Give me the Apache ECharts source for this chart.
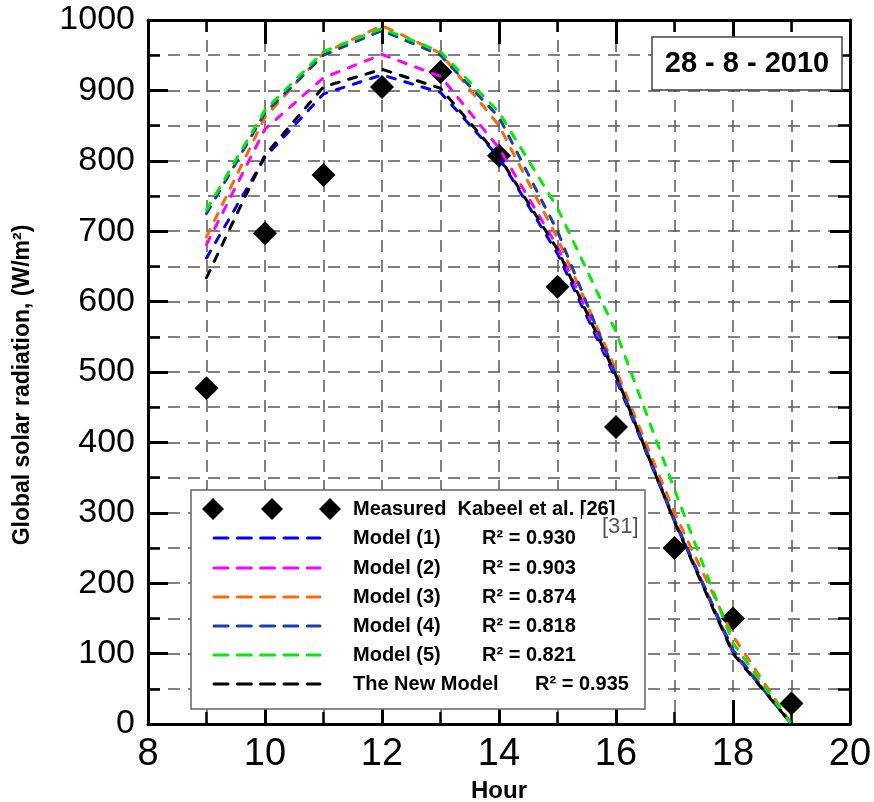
<!DOCTYPE html>
<html><head><meta charset="utf-8">
<script src="https://cdn.jsdelivr.net/npm/echarts@6/dist/echarts.min.js"></script>
<style>html,body{margin:0;padding:0;background:#fff}#c{width:874px;height:802px}</style>
</head><body><div id="c"></div>
<script>
// ---- data ----
const hours = [9, 10, 11, 12, 13, 14, 15, 16, 17, 18, 19];
const measured = [477, 697, 780, 905, 926, 807, 621, 422, 250, 150, 29];
const model1 = [662, 805, 895, 922, 897, 805, 668, 490, 288, 102, 0];
const model2 = [681, 845, 918, 951, 920, 818, 678, 495, 290, 103, 0];
const model3 = [692, 862, 953, 992, 953, 850, 690, 503, 300, 125, 0];
const model4 = [725, 868, 950, 985, 950, 862, 700, 495, 290, 105, 0];
const model5 = [730, 872, 955, 988, 955, 869, 733, 557, 333, 115, 0];
const newModel = [634, 808, 905, 930, 903, 806, 674, 495, 287, 100, 0];
const modelNames = ['Model (1)', 'Model (2)', 'Model (3)', 'Model (4)', 'Model (5)', 'The New Model'];
const modelR2 = ['R\u00b2 = 0.930', 'R\u00b2 = 0.903', 'R\u00b2 = 0.874', 'R\u00b2 = 0.818', 'R\u00b2 = 0.821', 'R\u00b2 = 0.935'];
const modelColors = ['#0000ff', '#ff00ff', '#ff6a00', '#1c3fae', '#00ee00', '#000000'];
const modelData = [model1, model2, model3, model4, model5, newModel];
const measuredName = 'Measured  Kabeel et al. [26]';
const citeText = '[31]';
const dateText = '28 - 8 - 2010';
const xTitle = 'Hour';
const yTitle = 'Global solar radiation, (W/m\u00b2)';

// ---- chart ----
const chart = echarts.init(document.getElementById('c'), null, {renderer: 'canvas'});
const F = '"Liberation Sans", Arial, sans-serif';
const gridDash = {type: [12, 8], color: '#555', width: 1.5};

function xy(arr) { return hours.map((h, i) => [h, arr[i]]); }

const drawOrder = [3, 4, 2, 1, 0, 5];
const lineSeries = drawOrder.map(i => ({
  name: modelNames[i], type: 'line', data: xy(modelData[i]),
  showSymbol: false, symbol: 'none', z: 3 + i * 0.01,
  lineStyle: {color: modelColors[i], width: 3, type: [8, 10], cap: 'round'},
  silent: true, animation: false
}));

// legend graphics
const g = [];
const LX = 191, LY = 490, LW = 454, LH = 219;
g.push({type: 'rect', shape: {x: LX, y: LY, width: LW, height: LH}, style: {fill: '#fff', stroke: '#666', lineWidth: 1.5}, z: 50});
const rowY = [509, 538, 568, 597, 626, 655, 684];
[213, 272, 330].forEach(cx => {
  g.push({type: 'polygon', shape: {points: [[cx, rowY[0] - 11], [cx + 11, rowY[0]], [cx, rowY[0] + 11], [cx - 11, rowY[0]]]}, style: {fill: '#000'}, z: 51});
});
g.push({type: 'text', x: 353, y: rowY[0], style: {text: measuredName, font: 'bold 20px ' + F, fill: '#000', verticalAlign: 'middle'}, z: 52});
g.push({type: 'rect', shape: {x: 582, y: 515, width: 60, height: 27}, style: {fill: '#fff'}, z: 53});
g.push({type: 'text', x: 602, y: 527, style: {text: citeText, font: '22px ' + F, fill: '#555', verticalAlign: 'middle'}, z: 54});
modelNames.forEach((n, i) => {
  const y = rowY[i + 1];
  g.push({type: 'line', shape: {x1: 214, y1: y, x2: 320, y2: y}, style: {stroke: modelColors[i], lineWidth: 3, lineDash: [14, 9.3], lineCap: 'round'}, z: 51});
  g.push({type: 'text', x: 353, y: y, style: {text: n, font: 'bold 20px ' + F, fill: '#000', verticalAlign: 'middle'}, z: 52});
  g.push({type: 'text', x: i === 5 ? 535 : 482, y: y, style: {text: modelR2[i], font: 'bold 20px ' + F, fill: '#000', verticalAlign: 'middle'}, z: 52});
});
// date box
g.push({type: 'rect', shape: {x: 652, y: 37, width: 190, height: 53}, style: {fill: '#fff', stroke: '#444', lineWidth: 1.5}, z: 50});
g.push({type: 'text', x: 747, y: 64, style: {text: dateText, font: 'bold 29px ' + F, fill: '#000', align: 'center', verticalAlign: 'middle'}, z: 52});

const axisCommon = {
  axisLine: {show: true, onZero: false, lineStyle: {color: '#000', width: 3}},
};
const plainNum = v => String(v);

const option = {
  animation: false,
  backgroundColor: '#fff',
  grid: {left: 148, right: 24, top: 20, bottom: 78, containLabel: false, outerBoundsMode: 'none'},
  xAxis: [
    {type: 'value', min: 8, max: 20, interval: 2, position: 'bottom',
     ...axisCommon,
     axisTick: {show: true, inside: true, length: 24, lineStyle: {color: '#000', width: 3}},
     minorTick: {show: true, splitNumber: 2, length: 12, lineStyle: {color: '#000', width: 2.5}},
     axisLabel: {fontSize: 38, color: '#000', margin: 12, fontFamily: F, formatter: plainNum},
     splitLine: {show: true, lineStyle: gridDash},
     minorSplitLine: {show: true, lineStyle: gridDash},
     name: xTitle, nameLocation: 'middle', nameGap: 54,
     nameTextStyle: {fontSize: 24, fontWeight: 'bold', color: '#000', fontFamily: F}},
    {type: 'value', min: 8, max: 20, interval: 2, position: 'top',
     ...axisCommon,
     axisTick: {show: true, inside: true, length: 24, lineStyle: {color: '#000', width: 3}},
     minorTick: {show: true, splitNumber: 2, length: 12, lineStyle: {color: '#000', width: 2.5}},
     axisLabel: {show: false}, splitLine: {show: false}}
  ],
  yAxis: [
    {type: 'value', min: 0, max: 1000, interval: 100, position: 'left',
     ...axisCommon,
     axisTick: {show: true, inside: true, length: 20, lineStyle: {color: '#000', width: 3}},
     minorTick: {show: true, splitNumber: 2, length: 12, lineStyle: {color: '#000', width: 2.5}},
     axisLabel: {fontSize: 34, color: '#000', margin: 13, fontFamily: F, formatter: plainNum},
     splitLine: {show: true, lineStyle: gridDash},
     minorSplitLine: {show: true, lineStyle: gridDash},
     name: yTitle, nameLocation: 'middle', nameGap: 114, nameRotate: 90,
     nameTextStyle: {fontSize: 23, fontWeight: 'bold', color: '#000', fontFamily: F, padding: [0, 26, 0, 0]}},
    {type: 'value', min: 0, max: 1000, interval: 100, position: 'right',
     ...axisCommon,
     axisTick: {show: true, inside: true, length: 20, lineStyle: {color: '#000', width: 3}},
     minorTick: {show: true, splitNumber: 2, length: 12, lineStyle: {color: '#000', width: 2.5}},
     axisLabel: {show: false}, splitLine: {show: false}}
  ],
  series: [
    {name: measuredName, type: 'scatter', data: xy(measured), symbol: 'diamond', symbolSize: 24,
     itemStyle: {color: '#000', opacity: 1}, z: 2, silent: true}
  ].concat(lineSeries),
  graphic: g
};
chart.setOption(option);
</script>
</body></html>
